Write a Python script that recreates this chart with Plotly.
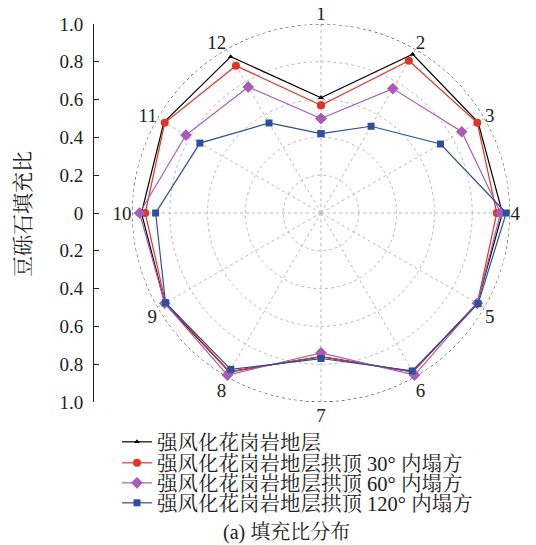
import plotly.graph_objects as go

directions = ["1", "2", "3", "4", "5", "6", "7", "8", "9", "10", "11", "12"]
angles = [0, 30, 60, 90, 120, 150, 180, 210, 240, 270, 300, 330]

names = ["强风化花岗岩地层",
         "强风化花岗岩地层拱顶 30° 内塌方",
         "强风化花岗岩地层拱顶 60° 内塌方",
         "强风化花岗岩地层拱顶 120° 内塌方"]
s_base = [0.61, 0.97, 0.96, 0.96, 0.955, 0.97, 0.76, 0.97, 0.955, 0.95, 0.96, 0.955]
s_30 = [0.57, 0.93, 0.955, 0.93, 0.955, 0.97, 0.76, 0.97, 0.95, 0.93, 0.955, 0.90]
s_60 = [0.50, 0.76, 0.86, 0.95, 0.955, 0.99, 0.74, 0.99, 0.955, 0.96, 0.825, 0.77]
s_120 = [0.42, 0.53, 0.73, 0.98, 0.96, 0.965, 0.77, 0.955, 0.95, 0.875, 0.74, 0.55]

left_ticks = [1.0, 0.8, 0.6, 0.4, 0.2, 0, -0.2, -0.4, -0.6, -0.8, -1.0]
left_labels = ["1.0", "0.8", "0.6", "0.4", "0.2", "0", "0.2", "0.4", "0.6", "0.8", "1.0"]

colors = ["#000000", "#e03428", "#a85cb8", "#2c4f9e"]
symbols = ["triangle-up", "circle", "diamond", "square"]
sizes = [5, 8, 9, 7]

FONT = "Liberation Serif, Noto Serif CJK SC, Noto Sans CJK SC, serif"
TXT = "#222222"

W, H = 536, 545
OFF = 8  # page body margin
cx, cy, R = 321 - OFF, 213 - OFF, 189
px = lambda v: v / W
py = lambda v: 1 - v / H

legend_rows = [434, 455, 475, 495]

fig = go.Figure()

# outer dotted circle
ring_theta = list(range(0, 361, 2))
fig.add_trace(go.Scatterpolar(r=[1.0] * len(ring_theta), theta=ring_theta, mode="lines",
                              line=dict(color="#333333", width=1, dash="dot"),
                              showlegend=False, hoverinfo="skip"))

legend_layouts = {}
for i, (name, vals, c, sym, sz) in enumerate(zip(names, [s_base, s_30, s_60, s_120], colors, symbols, sizes)):
    lg = "legend" if i == 0 else f"legend{i + 1}"
    fig.add_trace(go.Scatterpolar(
        r=vals + vals[:1], theta=angles + angles[:1], mode="lines+markers", name=name,
        line=dict(color=c, width=1.2), legend=lg,
        marker=dict(symbol=sym, size=sz, color=c)))
    legend_layouts[lg] = dict(x=px(109), y=py(legend_rows[i]), xanchor="left", yanchor="middle",
                              font=dict(family=FONT, size=20.5, color=TXT),
                              bgcolor="rgba(0,0,0,0)", itemwidth=30, borderwidth=0)

# dummy cartesian trace for left axis
fig.add_trace(go.Scatter(x=[0], y=[0], mode="markers", marker=dict(opacity=0),
                         showlegend=False, hoverinfo="skip", xaxis="x", yaxis="y"))

fig.update_layout(
    width=W, height=H, margin=dict(l=0, r=0, t=0, b=0, autoexpand=False),
    paper_bgcolor="white", plot_bgcolor="rgba(0,0,0,0)",
    font=dict(family=FONT, size=19, color=TXT),
    polar=dict(
        domain=dict(x=[px(cx - R), px(cx + R)], y=[py(cy + R), py(cy - R)]),
        bgcolor="white",
        radialaxis=dict(range=[0, 1], tickvals=[0.2, 0.4, 0.6, 0.8], showticklabels=False,
                        ticks="", showline=False, gridcolor="#bbbbbb", griddash="dot", gridwidth=1),
        angularaxis=dict(rotation=90, direction="clockwise", tickvals=angles, ticktext=directions,
                         ticks="", showline=False, gridcolor="#bbbbbb", griddash="dot", gridwidth=1,
                         tickfont=dict(family=FONT, size=19, color=TXT)),
    ),
    xaxis=dict(domain=[px(94 - OFF), px(95 - OFF)], range=[0, 1], visible=False),
    yaxis=dict(domain=[py(cy + R), py(cy - R)], range=[-1, 1], anchor="x", automargin=False,
               tickvals=left_ticks, ticktext=left_labels, ticks="inside", ticklen=5,
               tickcolor=TXT, showline=True, linecolor=TXT, linewidth=1, ticklabelstandoff=6,
               showgrid=False, zeroline=False, tickfont=dict(family=FONT, size=19, color=TXT)),
    annotations=[
        dict(text="豆砾石填充比", x=px(23 - OFF), y=py(214 - OFF), xref="paper", yref="paper",
             xanchor="center", yanchor="middle",
             showarrow=False, textangle=-90, font=dict(family=FONT, size=21, color=TXT)),
        dict(text="(a) 填充比分布", x=px(286 - OFF), y=py(532 - OFF), xref="paper", yref="paper",
             xanchor="center", yanchor="middle",
             showarrow=False, font=dict(family=FONT, size=20, color=TXT)),
    ],
    showlegend=True,
    **legend_layouts,
)

fig.write_html("out.html")
